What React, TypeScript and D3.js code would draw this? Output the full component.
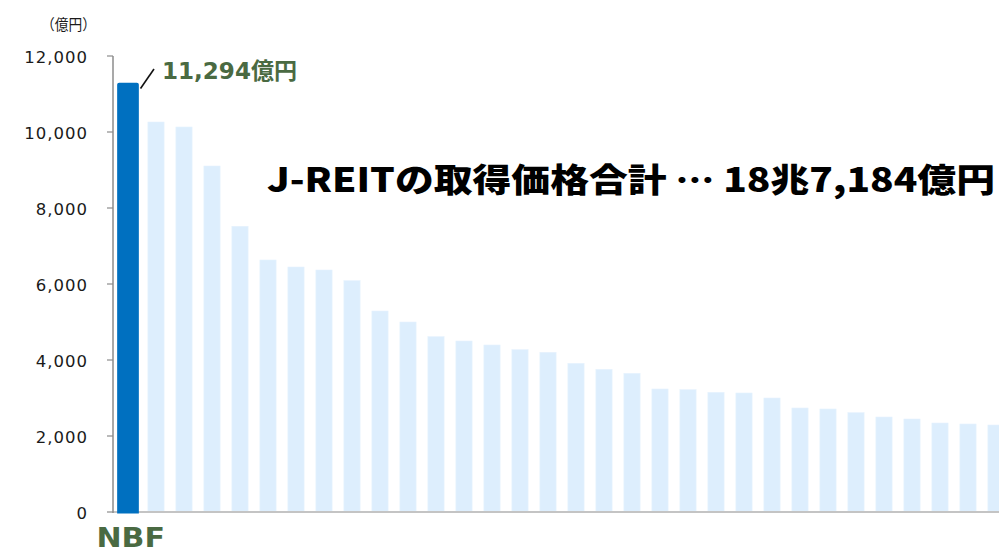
import React from "react";
import * as d3 from "d3";

const categories: string[] = Array.from({ length: 32 }, (_, i) => (i === 0 ? "NBF" : `R${i + 1}`));
const values: number[] = [
  11294, 10263, 10132, 9105, 7518, 6632, 6447, 6368, 6087, 5289,
  5000, 4614, 4500, 4395, 4272, 4202, 3912, 3754, 3649, 3237,
  3219, 3149, 3132, 3000, 2737, 2711, 2614, 2500, 2447, 2342,
  2316, 2289,
];
const yTicks: number[] = [0, 2000, 4000, 6000, 8000, 10000, 12000];
const unitLabel = "（億円）";
const highlightLabel = "11,294億円";
const titleText = "J-REITの取得価格合計 … 18兆7,184億円";
const highlightName = "NBF";

const W = 999;
const H = 553;

export default function App() {
  const axisX = 113;
  const y = d3.scaleLinear().domain([0, 12000]).range([512, 56]);
  const x = d3
    .scaleBand<string>()
    .domain(categories)
    .range([axisX + 1, axisX + 1 + 28 * categories.length])
    .paddingInner(0.42)
    .paddingOuter(0.21);
  const bw = x.bandwidth();
  const fmt = d3.format(",");
  const green = "#4a6a42";
  const cx0 = (x(categories[0]) as number) + bw / 2;
  const nbfW = 21.7;
  const top0 = y(values[0]);
  const l = cx0 - nbfW / 2;
  const r = cx0 + nbfW / 2;

  return (
    <svg
      width={W}
      height={H}
      viewBox={`0 0 ${W} ${H}`}
      style={{ position: "absolute", left: 0, top: 0, display: "block" }}
    >
      <rect x={0} y={0} width={W} height={H} fill="#ffffff" />
      {/* light bars */}
      {values.map((v, i) =>
        i === 0 ? null : (
          <rect
            key={categories[i]}
            x={x(categories[i]) as number}
            y={y(v)}
            width={bw}
            height={y(0) - y(v)}
            fill="#ddeefd"
            stroke="#e6f2fd"
            strokeWidth={0.6}
          />
        )
      )}
      {/* baseline */}
      <line x1={axisX} x2={W} y1={y(0)} y2={y(0)} stroke="#c4c4c4" strokeWidth={2} />
      {/* highlight bar */}
      <path
        d={`M${l},${y(0) + 1.5} L${l},${top0 + 2} Q${l},${top0} ${l + 2},${top0} L${r - 2},${top0} Q${r},${top0} ${r},${top0 + 2} L${r},${y(0) + 1.5} Z`}
        fill="#0070c0"
      />
      {/* y axis */}
      <line x1={axisX} x2={axisX} y1={y(12000)} y2={y(0) + 1} stroke="#8c8c8c" strokeWidth={1.5} />
      {yTicks.map((t) => (
        <g key={t}>
          <line x1={axisX - 6} x2={axisX} y1={y(t)} y2={y(t)} stroke="#8c8c8c" strokeWidth={1.2} />
          <text
            x={88}
            y={y(t) + 7}
            textAnchor="end"
            fontFamily="'DejaVu Sans', Verdana, sans-serif"
            fontSize={16.5}
            letterSpacing={1}
            fill="#1a1a1a"
          >
            {fmt(t)}
          </text>
        </g>
      ))}
      {/* unit */}
      <text
        x={41}
        y={29.5}
        fontFamily="'Noto Sans CJK JP', sans-serif"
        fontSize={15}
        fill="#1a1a1a"
        textLength={55}
        lengthAdjust="spacingAndGlyphs"
      >
        {unitLabel}
      </text>
      {/* annotation */}
      <line x1={140.5} y1={88.5} x2={154} y2={69} stroke="#111" strokeWidth={1.6} />
      <text
        x={162}
        y={79}
        fontFamily="'DejaVu Sans', 'Noto Sans CJK JP', sans-serif"
        fontWeight="bold"
        fontSize={23}
        fill={green}
        textLength={135}
        lengthAdjust="spacingAndGlyphs"
      >
        {highlightLabel}
      </text>
      {/* title */}
      <text
        x={267}
        y={192}
        fontFamily="'Noto Sans CJK JP', sans-serif"
        fontWeight={900}
        fontSize={33}
        fill="#000"
        textLength={728}
        lengthAdjust="spacingAndGlyphs"
      >
        {titleText}
      </text>
      {/* category label */}
      <text
        x={96.5}
        y={547}
        fontFamily="'DejaVu Sans', sans-serif"
        fontWeight="bold"
        fontSize={27}
        fill={green}
        textLength={68.5}
        lengthAdjust="spacingAndGlyphs"
      >
        {highlightName}
      </text>
    </svg>
  );
}
